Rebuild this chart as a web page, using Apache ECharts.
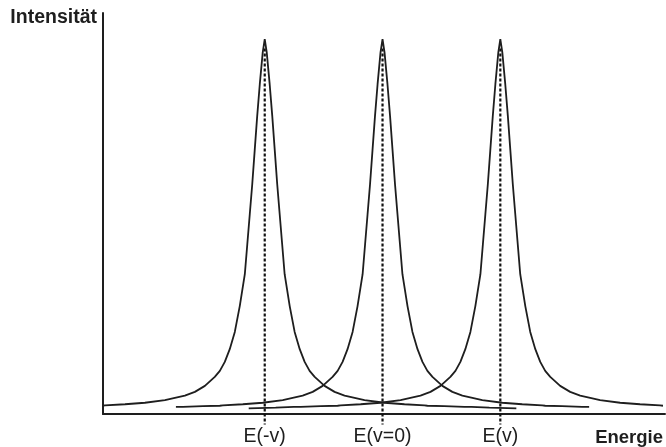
<!DOCTYPE html>
<html>
<head>
<meta charset="utf-8">
<title>Intensität / Energie</title>
<script src="https://cdn.jsdelivr.net/npm/echarts@6.0.0/dist/echarts.min.js"></script>
<style>
  html, body { margin: 0; padding: 0; background: #fff; }
  #chart { width: 666px; height: 447px; }
</style>
</head>
<body>
<div id="chart"></div>
<script>
// line positions (energy units, E(v=0) = 0) and their labels
const peakCenters = [-1, 0, 1];
const peakLabels = ['E(-v)', 'E(v=0)', 'E(v)'];
// how far each curve reaches to the left / right of its centre
const leftReach = [1.381, 1.754, 2.136];
const rightReach = [2.136, 1.754, 1.381];

// line shape: distance from centre -> intensity (peak = 1)
const profileOffsets = [0, 0.017, 0.042, 0.064, 0.085, 0.106, 0.127, 0.148, 0.169, 0.212,
  0.254, 0.297, 0.339, 0.381, 0.424, 0.508, 0.593, 0.678, 0.763, 0.847,
  1.017, 1.186, 1.356, 1.381, 1.525, 1.695, 1.754, 1.907, 2.136];
const profileHeights = [1.000, 0.965, 0.880, 0.795, 0.704, 0.613, 0.533, 0.453, 0.373, 0.288,
  0.219, 0.173, 0.139, 0.115, 0.099, 0.075, 0.059, 0.049, 0.043, 0.037,
  0.030, 0.026, 0.023, 0.022, 0.021, 0.019, 0.019, 0.017, 0.015];

(function () {
  let myChart = echarts.init(document.getElementById('chart'));
  const ink = '#1e1e1e';
  const font = 'Liberation Sans, Arial, sans-serif';

  function curveData(i) {
    let pts = [];
    for (let k = profileOffsets.length - 1; k > 0; k--) {
      if (profileOffsets[k] <= leftReach[i] + 1e-9) {
        pts.push([peakCenters[i] - profileOffsets[k], profileHeights[k]]);
      }
    }
    for (let k = 0; k < profileOffsets.length; k++) {
      if (profileOffsets[k] <= rightReach[i] + 1e-9) {
        pts.push([peakCenters[i] + profileOffsets[k], profileHeights[k]]);
      }
    }
    return pts;
  }

  let series = [];
  peakCenters.forEach(function (c, i) {
    // dotted drop line from the peak down below the axis
    series.push({
      type: 'line',
      data: [[c, 0.975], [c, -0.028]],
      symbol: 'none',
      clip: false,
      silent: true,
      lineStyle: { color: '#111', width: 2.2, type: [3, 2] },
      z: 1
    });
    series.push({
      name: peakLabels[i],
      type: 'line',
      data: curveData(i),
      symbol: 'none',
      clip: false,
      lineStyle: { color: ink, width: 1.8 },
      z: 2
    });
  });

  let option = {
    animation: false,
    grid: { left: 103, right: 0, top: 13, bottom: 33 },
    xAxis: {
      type: 'value',
      min: -2.373,
      max: 2.398,
      name: 'Energie',
      nameLocation: 'end',
      nameGap: -2,
      nameTextStyle: {
        fontFamily: font,
        fontWeight: 'bold',
        fontSize: 18.5,
        color: ink,
        align: 'right',
        verticalAlign: 'top',
        padding: [14, 0, 0, 0]
      },
      axisLine: { onZero: false, lineStyle: { color: ink, width: 2 } },
      axisTick: { show: false },
      splitLine: { show: false },
      axisLabel: {
        customValues: peakCenters,
        margin: 13,
        fontFamily: font,
        fontSize: 19.5,
        color: ink,
        formatter: function (v) {
          let idx = peakCenters.indexOf(v);
          return idx >= 0 ? peakLabels[idx] : '';
        }
      }
    },
    yAxis: {
      type: 'value',
      min: 0,
      max: 1.07,
      name: 'Intensität',
      nameLocation: 'end',
      nameGap: -5,
      nameTextStyle: {
        fontFamily: font,
        fontWeight: 'bold',
        fontSize: 19.5,
        color: ink,
        align: 'right',
        verticalAlign: 'middle',
        padding: [0, 6, 0, 0]
      },
      axisLine: { show: true, onZero: false, lineStyle: { color: ink, width: 2 } },
      axisTick: { show: false },
      axisLabel: { show: false },
      splitLine: { show: false }
    },
    series: series
  };

  myChart.setOption(option);
})();
</script>
</body>
</html>
